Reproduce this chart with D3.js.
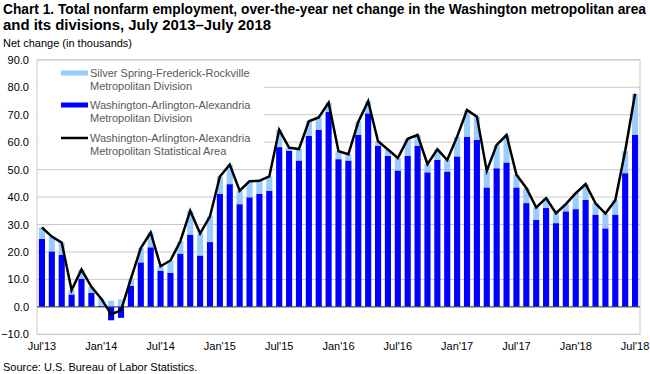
<!DOCTYPE html>
<html>
<head>
<meta charset="utf-8">
<script src="https://cdn.jsdelivr.net/npm/d3@7"></script>
<style>
  body { margin: 0; background: #fff; }
  text { font-family: "Liberation Sans", Arial, sans-serif; }
</style>
</head>
<body>
<svg id="chart"></svg>
<script>
const width = 650;
const height = 374;

// Jul 2013 .. Jul 2018, one entry per month
const months = d3.timeMonth.range(new Date(2013, 6, 1), new Date(2018, 7, 1));
const tickLabels = ["Jul'13", "Jan'14", "Jul'14", "Jan'15", "Jul'15", "Jan'16",
  "Jul'16", "Jan'17", "Jul'17", "Jan'18", "Jul'18"];
const yTicks = [-10, 0, 10, 20, 30, 40, 50, 60, 70, 80, 90];

// Washington-Arlington-Alexandria Metropolitan Division
const washDiv = [24.8, 20.2, 19.0, 4.5, 10.2, 5.1, 0.3, -4.9, -4.0, 7.7, 16.2, 21.7,
  13.2, 12.4, 19.4, 26.3, 18.7, 23.6, 41.1, 44.7, 37.4, 39.9, 41.2, 42.3,
  58.2, 56.8, 53.3, 62.3, 64.5, 71.1, 53.8, 53.3, 62.7, 70.5, 58.6, 55.0,
  49.7, 55.0, 58.6, 49.0, 53.6, 49.3, 54.8, 62.0, 60.8, 43.5, 50.5, 52.6,
  43.5, 37.8, 31.7, 36.0, 30.5, 34.8, 35.6, 39.0, 33.6, 28.6, 33.6, 48.7, 62.7];

// Silver Spring-Frederick-Rockville Metropolitan Division
const silverDiv = [4.1, 5.4, 4.4, 1.6, 3.4, 2.2, 2.7, 2.2, 2.7, 2.6, 5.2, 5.4,
  1.6, 4.5, 4.5, 8.7, 8.0, 9.4, 6.4, 7.1, 4.9, 5.9, 4.7, 5.2,
  6.3, 1.2, 4.2, 5.3, 4.5, 3.3, 2.9, 2.3, 4.7, 4.4, 1.7, 2.3,
  4.5, 6.2, 4.0, 3.0, 3.8, 4.2, 7.2, 9.7, 8.5, 6.0, 8.5, 10.0,
  4.6, 5.5, 4.5, 3.6, 3.6, 2.6, 5.8, 5.7, 4.1, 5.4, 5.2, 8.1, 14.9];

// Washington-Arlington-Alexandria Metropolitan Statistical Area
const msa = [28.9, 25.6, 23.4, 6.1, 13.6, 7.3, 3.0, -2.7, -1.3, 10.3, 21.4, 27.1,
  14.8, 16.9, 23.9, 35.0, 26.7, 33.0, 47.5, 51.8, 42.3, 45.8, 45.9, 47.5,
  64.5, 58.0, 57.5, 67.6, 69.0, 74.4, 56.7, 55.6, 67.4, 74.9, 60.3, 57.3,
  54.2, 61.2, 62.6, 52.0, 57.4, 53.5, 62.0, 71.7, 69.3, 49.5, 59.0, 62.6,
  48.1, 43.3, 36.2, 39.6, 34.1, 37.4, 41.4, 44.7, 37.7, 34.0, 38.8, 56.8, 77.6];

const fmtMonth = d3.timeFormat("%b'%y");
const rows = months.map((m, i) => ({ label: fmtMonth(m), wash: washDiv[i], silver: silverDiv[i], total: msa[i] }));

const svg = d3.select("#chart")
  .attr("width", width)
  .attr("height", height);

const plot = { left: 37, right: 640, top: 59.8, bottom: 334.3 };

const x = d3.scaleBand()
  .domain(rows.map(d => d.label))
  .range([plot.left, plot.right])
  .paddingInner(0.38)
  .paddingOuter(0.19);

const y = d3.scaleLinear()
  .domain([-10, 90])
  .range([plot.bottom, plot.top]);

// title
svg.append("text")
  .attr("x", 3).attr("y", 14)
  .attr("font-size", 13.8).attr("font-weight", "bold").attr("fill", "#000")
  .attr("textLength", 643).attr("lengthAdjust", "spacingAndGlyphs")
  .text("Chart 1. Total nonfarm employment, over-the-year net change in the Washington metropolitan area");
svg.append("text")
  .attr("x", 3).attr("y", 30)
  .attr("font-size", 13.8).attr("font-weight", "bold").attr("fill", "#000")
  .attr("textLength", 268).attr("lengthAdjust", "spacingAndGlyphs")
  .text("and its divisions, July 2013\u2013July 2018");

svg.append("text")
  .attr("x", 3).attr("y", 47)
  .attr("font-size", 11).attr("fill", "#000")
  .text("Net change (in thousands)");

// gridlines
svg.append("g")
  .selectAll("line")
  .data(yTicks)
  .enter().append("line")
  .attr("x1", plot.left).attr("x2", plot.right)
  .attr("y1", d => y(d)).attr("y2", d => y(d))
  .attr("stroke", "#c8c8c8").attr("stroke-width", 1);

// frame
svg.append("rect")
  .attr("x", plot.left).attr("y", plot.top)
  .attr("width", plot.right - plot.left).attr("height", plot.bottom - plot.top)
  .attr("fill", "none").attr("stroke", "#c8c8c8");

// y axis labels
const yAxis = d3.axisLeft(y).tickValues(yTicks).tickFormat(d3.format(".1f")).tickSize(0).tickPadding(8);
svg.append("g")
  .attr("transform", `translate(${plot.left},0)`)
  .call(yAxis)
  .call(g => g.select(".domain").remove())
  .call(g => g.selectAll("text").attr("font-size", 11).attr("fill", "#000")
    .attr("font-family", "Liberation Sans, Arial, sans-serif"));

// stacked bars
const stack = d3.stack()
  .keys(["wash", "silver"])
  .offset(d3.stackOffsetDiverging);
const series = stack(rows);
const colors = { wash: "#0000ff", silver: "#99ccff" };

svg.append("g")
  .selectAll("g")
  .data(series)
  .enter().append("g")
  .attr("fill", s => colors[s.key])
  .selectAll("rect")
  .data(s => s)
  .enter().append("rect")
  .attr("x", d => x(d.data.label))
  .attr("width", x.bandwidth())
  .attr("y", d => y(Math.max(d[0], d[1])))
  .attr("height", d => Math.abs(y(d[0]) - y(d[1])));

// zero line
svg.append("line")
  .attr("x1", plot.left).attr("x2", plot.right)
  .attr("y1", y(0)).attr("y2", y(0))
  .attr("stroke", "#404040").attr("stroke-width", 1);

// x axis labels
const xAxis = d3.axisBottom(x)
  .tickValues(tickLabels)
  .tickSize(0).tickPadding(8);
svg.append("g")
  .attr("transform", `translate(0,${plot.bottom})`)
  .call(xAxis)
  .call(g => g.select(".domain").remove())
  .call(g => g.selectAll("text").attr("font-size", 11).attr("fill", "#000")
    .attr("font-family", "Liberation Sans, Arial, sans-serif"));

// MSA line
const line = d3.line()
  .x(d => x(d.label) + x.bandwidth() / 2)
  .y(d => y(d.total));
svg.append("path")
  .datum(rows)
  .attr("d", line)
  .attr("fill", "none")
  .attr("stroke", "#000")
  .attr("stroke-width", 2.5)
  .attr("stroke-linejoin", "miter");

// legend
const legend = svg.append("g");
legend.append("rect")
  .attr("x", plot.left + 1).attr("y", 62)
  .attr("width", 226).attr("height", 97)
  .attr("fill", "#fff");

const legendItems = [
  { key: "silver", lines: ["Silver Spring-Frederick-Rockville", "Metropolitan Division"], y: 73 },
  { key: "wash", lines: ["Washington-Arlington-Alexandria", "Metropolitan Division"], y: 105 },
  { key: "line", lines: ["Washington-Arlington-Alexandria", "Metropolitan Statistical Area"], y: 138 }
];

legendItems.forEach(item => {
  if (item.key === "line") {
    legend.append("line")
      .attr("x1", 61).attr("x2", 88)
      .attr("y1", item.y).attr("y2", item.y)
      .attr("stroke", "#000").attr("stroke-width", 2.5);
  } else {
    legend.append("rect")
      .attr("x", 61).attr("y", item.y - 2.5)
      .attr("width", 27).attr("height", 5)
      .attr("fill", colors[item.key]);
  }
  legend.append("text")
    .attr("x", 90).attr("y", item.y + 4)
    .attr("font-size", 11).attr("fill", "#595959")
    .selectAll("tspan")
    .data(item.lines)
    .enter().append("tspan")
    .attr("x", 90)
    .attr("dy", (d, i) => i === 0 ? 0 : 12.5)
    .text(d => d);
});

svg.append("text")
  .attr("x", 3).attr("y", 371)
  .attr("font-size", 11).attr("fill", "#000")
  .text("Source: U.S. Bureau of Labor Statistics.");
</script>
</body>
</html>
